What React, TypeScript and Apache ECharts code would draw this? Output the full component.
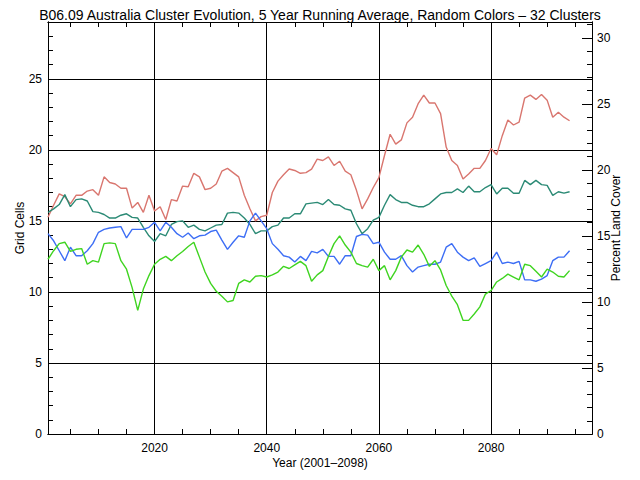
import React, { useEffect, useRef } from "react";
import * as echarts from "echarts";

const years: number[] = [];
for (let y = 2001; y <= 2094; y++) years.push(y);

const redValues = [
  15.26, 16.1, 16.9, 16.7, 16.2, 16.8, 16.8, 17.1, 17.2, 16.8,
  18.1, 17.7, 17.6, 17.3, 17.3, 15.9, 16.3, 15.6, 16.8, 15.7,
  16.0, 15.1, 16.5, 16.4, 17.45, 17.4, 18.35, 18.1, 17.2, 17.3,
  17.6, 18.5, 18.7, 18.4, 18.1, 16.8, 15.85, 15.0, 15.3, 15.4,
  17.0, 17.8, 18.25, 18.65, 18.55, 18.35, 18.4, 18.65, 19.35, 19.25,
  19.5, 18.9, 19.2, 18.5, 18.25, 17.15, 15.85, 16.55, 17.35, 18.05,
  19.6, 21.1, 20.4, 20.7, 21.9, 22.3, 23.25, 23.85, 23.3, 23.3,
  22.55, 20.2, 19.25, 18.9, 17.95, 18.3, 18.7, 18.7, 19.25, 20.1,
  19.65, 21.0, 22.1, 21.75, 21.95, 23.65, 23.85, 23.55, 23.9, 23.5,
  22.3, 22.65, 22.3, 22.05,
];

const tealValues = [
  15.6, 15.85, 16.15, 16.85, 16.0, 16.5, 16.55, 16.4, 15.65, 15.6,
  15.45, 15.2, 15.2, 15.4, 15.5, 15.25, 15.2, 14.55, 13.95, 13.55,
  14.1, 13.95, 14.75, 14.95, 15.0, 14.55, 14.7, 14.4, 14.3, 14.5,
  14.7, 14.75, 15.55, 15.6, 15.55, 15.2, 14.75, 14.1, 14.3, 14.3,
  14.6, 14.7, 15.2, 15.2, 15.5, 15.5, 16.2, 16.25, 16.3, 16.15,
  16.5, 16.15, 16.1, 15.85, 15.75, 14.8, 14.1, 14.45, 15.05, 15.25,
  16.1, 16.85, 16.5, 16.3, 16.3, 16.1, 16.0, 16.0, 16.2, 16.55,
  16.9, 17.0, 17.0, 17.25, 17.0, 17.45, 17.05, 17.05, 17.35, 17.55,
  16.9, 17.3, 17.3, 16.95, 16.95, 17.85, 17.55, 17.85, 17.55, 17.5,
  16.8, 17.05, 16.95, 17.05,
];

const blueValues = [
  14.1, 13.6, 12.9, 12.2, 13.15, 12.55, 12.55, 12.9, 13.4, 14.2,
  14.4, 14.5, 14.55, 14.6, 13.8, 14.4, 14.4, 14.4, 14.55, 14.9,
  14.3, 14.9, 14.55, 14.1, 13.85, 14.15, 13.75, 13.95, 14.0, 14.25,
  14.35, 13.65, 13.0, 13.5, 13.95, 13.85, 15.0, 15.55, 15.0, 14.45,
  13.4, 13.0, 12.55, 12.45, 12.1, 12.5, 12.2, 12.85, 12.75, 13.0,
  12.5, 12.5, 11.95, 12.55, 12.55, 13.9, 14.05, 14.0, 13.4, 13.5,
  12.8, 12.3, 12.3, 12.55, 11.85, 11.4, 11.75, 11.85, 11.95, 11.95,
  12.1, 13.15, 13.4, 12.8, 12.45, 12.2, 12.4, 11.8, 12.0, 12.2,
  12.8, 12.0, 12.1, 12.0, 12.15, 10.85, 10.85, 10.75, 10.9, 11.15,
  12.2, 12.45, 12.45, 12.9,
];

const greenValues = [
  12.3, 12.9, 13.4, 13.5, 12.85, 13.0, 13.05, 11.95, 12.2, 12.1,
  13.4, 13.45, 13.4, 12.2, 11.6, 10.3, 8.7, 10.2, 11.15, 11.95,
  12.3, 12.5, 12.2, 12.55, 12.85, 13.2, 13.5, 12.45, 11.4, 10.6,
  10.05, 9.7, 9.3, 9.4, 10.6, 10.85, 10.7, 11.1, 11.15, 11.05,
  11.2, 11.4, 11.8, 11.65, 11.9, 12.15, 11.85, 10.75, 11.2, 11.5,
  12.5, 13.4, 13.95, 13.3, 12.8, 12.0, 11.85, 11.75, 12.3, 11.5,
  11.85, 10.85, 11.5, 12.45, 12.95, 12.8, 13.3, 12.65, 11.8, 12.2,
  11.55, 10.45, 9.7, 9.1, 8.0, 8.0, 8.45, 8.95, 9.85, 10.1,
  10.7, 10.95, 11.25, 11.05, 10.85, 11.95, 11.85, 11.45, 11.05, 11.6,
  11.4, 11.1, 11.05, 11.5,
];

const leftTicks = [0, 5, 10, 15, 20, 25];
const rightTicks = [0, 5, 10, 15, 20, 25, 30];
const xTicks = [2020, 2040, 2060, 2080];

const FONT = "Liberation Sans";

export default function App() {
  const ref = useRef<HTMLDivElement>(null);
  useEffect(() => {
    if (!ref.current) return;
    const chart = echarts.init(ref.current, null, { renderer: "svg" });
    const black = "#000";
    const grid = { left: 48, right: 48, top: 22, bottom: 46 };
    const baseX = (pos: "bottom" | "top", major: boolean, labels: boolean) => ({
      type: "value",
      min: 2001,
      max: 2098,
      position: pos,
      minInterval: major ? 20 : 5,
      maxInterval: major ? 20 : 5,
      axisLine: { show: true, onZero: false, lineStyle: { color: black, width: 1 } },
      axisTick: { show: true, inside: true, length: major ? 10 : 5, lineStyle: { color: black } },
      axisLabel: labels
        ? {
            show: true,
            fontFamily: FONT,
            fontSize: 12,
            color: black,
            margin: 8,
            formatter: (v: number) => (xTicks.includes(v) ? String(v) : ""),
          }
        : { show: false },
      splitLine: major && pos === "bottom" ? { show: true, lineStyle: { color: black, width: 1 } } : { show: false },
      ...(labels
        ? {
            name: "Year (2001–2098)",
            nameLocation: "middle",
            nameGap: 23,
            nameMoveOverlap: false,
            nameTextStyle: { fontFamily: FONT, fontSize: 12, color: black },
          }
        : {}),
    });
    const baseY = (
      pos: "left" | "right",
      max: number,
      major: boolean,
      ticks: number[],
      name?: string,
      nameGap?: number,
      split?: boolean
    ) => ({
      type: "value",
      min: 0,
      max,
      position: pos,
      interval: major ? 5 : 1,
      axisLine: { show: true, onZero: false, lineStyle: { color: black, width: 1 } },
      axisTick: { show: true, inside: true, length: major ? 10 : 5, lineStyle: { color: black } },
      axisLabel: major
        ? {
            show: true,
            fontFamily: FONT,
            fontSize: 12,
            color: black,
            margin: pos === "left" ? 6 : 5,
            formatter: (v: number) => (ticks.includes(v) ? String(v) : ""),
          }
        : { show: false },
      splitLine: split ? { show: true, lineStyle: { color: black, width: 1 } } : { show: false },
      ...(name
        ? {
            name,
            nameLocation: "middle",
            nameGap,
            nameMoveOverlap: false,
            nameTextStyle: { fontFamily: FONT, fontSize: 12, color: black },
          }
        : {}),
    });
    const mk = (vals: number[], color: string) => ({
      type: "line",
      xAxisIndex: 0,
      yAxisIndex: 0,
      data: years.map((y, i) => [y, vals[i]]),
      showSymbol: false,
      symbol: "none",
      lineStyle: { color, width: 1.4 },
      z: 5,
    });
    chart.setOption({
      animation: false,
      backgroundColor: "#fff",
      title: {
        text: "B06.09 Australia Cluster Evolution, 5 Year Running Average, Random Colors – 32 Clusters",
        left: "center",
        top: 3,
        textStyle: { fontFamily: FONT, fontSize: 14, fontWeight: "normal", color: black },
      },
      grid,
      xAxis: [
        baseX("bottom", true, true),
        baseX("bottom", false, false),
        baseX("top", true, false),
        baseX("top", false, false),
      ],
      yAxis: [
        baseY("left", 29, true, leftTicks, "Grid Cells", 22, true),
        baseY("left", 29, false, leftTicks),
        baseY("right", 31.2, true, rightTicks, "Percent Land Cover", 18, false),
        baseY("right", 31.2, false, rightTicks),
      ],
      series: [
        mk(redValues, "#d9766f"),
        mk(tealValues, "#2b8a75"),
        mk(blueValues, "#3d6ef5"),
        mk(greenValues, "#3fd420"),
      ],
    });
    return () => chart.dispose();
  }, []);
  return (
    <div
      ref={ref}
      style={{ position: "fixed", left: 0, top: 0, width: 640, height: 480, background: "#fff" }}
    />
  );
}
